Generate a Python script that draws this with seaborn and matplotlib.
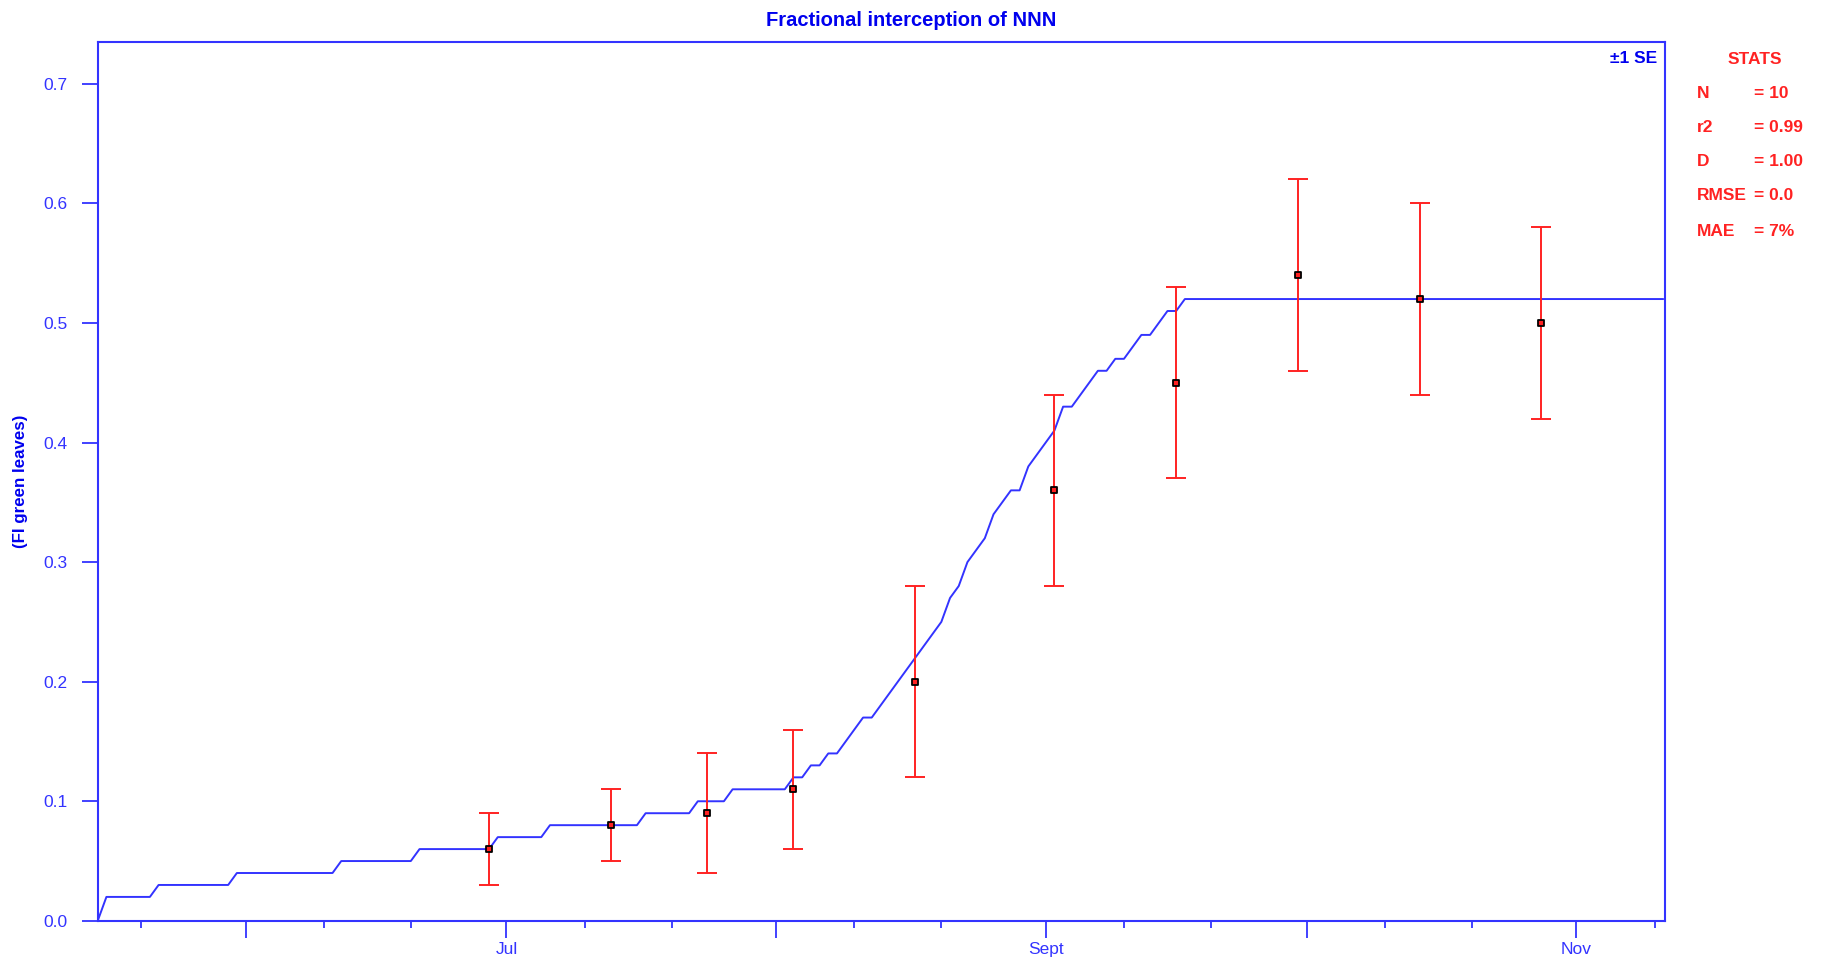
import numpy as np
import pandas as pd
import matplotlib
matplotlib.use("Agg")
import matplotlib.pyplot as plt
import matplotlib.dates as mdates
import matplotlib.ticker as mticker
import seaborn as sns

# ---------------- data ----------------
model_start = "2005-05-15"
# simulated daily fractional interception
model_fi = [
    0.00,
    0.02, 0.02, 0.02, 0.02, 0.02, 0.02,
    0.03, 0.03, 0.03, 0.03, 0.03, 0.03, 0.03, 0.03, 0.03,
    0.04, 0.04, 0.04, 0.04, 0.04, 0.04, 0.04, 0.04, 0.04, 0.04, 0.04, 0.04,
    0.05, 0.05, 0.05, 0.05, 0.05, 0.05, 0.05, 0.05, 0.05,
    0.06, 0.06, 0.06, 0.06, 0.06, 0.06, 0.06, 0.06, 0.06,
    0.07, 0.07, 0.07, 0.07, 0.07, 0.07,
    0.08, 0.08, 0.08, 0.08, 0.08, 0.08, 0.08, 0.08, 0.08, 0.08, 0.08,
    0.09, 0.09, 0.09, 0.09, 0.09, 0.09,
    0.10, 0.10, 0.10, 0.10,
    0.11, 0.11, 0.11, 0.11, 0.11, 0.11, 0.11,
    0.12, 0.12, 0.13, 0.13, 0.14, 0.14,
    0.15, 0.16, 0.17, 0.17, 0.18, 0.19, 0.20, 0.21, 0.22, 0.23,
    0.24, 0.25, 0.27, 0.28, 0.30, 0.31, 0.32, 0.34, 0.35, 0.36,
    0.36, 0.38, 0.39, 0.40, 0.41, 0.43, 0.43, 0.44, 0.45, 0.46,
    0.46, 0.47, 0.47, 0.48, 0.49, 0.49, 0.50, 0.51, 0.51,
    0.52, 0.52, 0.52, 0.52, 0.52, 0.52, 0.52, 0.52, 0.52, 0.52,
    0.52, 0.52, 0.52, 0.52, 0.52, 0.52, 0.52, 0.52, 0.52, 0.52,
    0.52, 0.52, 0.52, 0.52, 0.52, 0.52, 0.52, 0.52, 0.52, 0.52,
    0.52, 0.52, 0.52, 0.52, 0.52, 0.52, 0.52, 0.52, 0.52, 0.52,
    0.52, 0.52, 0.52, 0.52, 0.52, 0.52, 0.52, 0.52, 0.52, 0.52,
    0.52, 0.52, 0.52, 0.52, 0.52, 0.52,
]

obs_dates = ["2005-06-29", "2005-07-13", "2005-07-24", "2005-08-03", "2005-08-17",
             "2005-09-02", "2005-09-16", "2005-09-30", "2005-10-14", "2005-10-28"]
obs_fi = [0.06, 0.08, 0.09, 0.11, 0.20, 0.36, 0.45, 0.54, 0.52, 0.50]
obs_se = [0.03, 0.03, 0.05, 0.05, 0.08, 0.08, 0.08, 0.08, 0.08, 0.08]

stats_labels = ["N", "r2", "D", "RMSE", "MAE"]
stats_values = ["10", "0.99", "1.00", "0.0", "7%"]

month_labels = {7: "Jul", 9: "Sept", 11: "Nov"}
y_ticks = [0.0, 0.1, 0.2, 0.3, 0.4, 0.5, 0.6, 0.7]

title_text = "Fractional interception of NNN"
ylabel_text = "(FI green leaves)"
se_text = "\u00b11 SE"

# ---------------- style ----------------
sns.set_style("ticks")
plt.rcParams['font.family'] = ['Liberation Sans', 'DejaVu Sans']

BLUE = "#3333ff"
TBLUE = "#0000ee"
RED = "#ff2222"

model_df = pd.DataFrame({
    "date": pd.date_range(model_start, periods=len(model_fi), freq="D"),
    "fi": model_fi,
})
obs_df = pd.DataFrame({"date": pd.to_datetime(obs_dates), "fi": obs_fi, "se": obs_se})

fig = plt.figure(figsize=(18.23, 9.6), dpi=100)
ax = fig.add_axes([0.0536, 0.0408, 0.8597, 0.9155])

sns.lineplot(data=model_df, x="date", y="fi", ax=ax, color=BLUE, linewidth=1.4,
             zorder=2)

ax.errorbar(obs_df["date"], obs_df["fi"], yerr=obs_df["se"], fmt="none",
            ecolor=RED, elinewidth=1.4, capsize=7.5, capthick=1.4, zorder=3)
sns.scatterplot(data=obs_df, x="date", y="fi", ax=ax, marker="s", s=20,
                color=RED, edgecolor="black", linewidth=1.3, zorder=4)

# limits
x0 = pd.Timestamp(model_start)
ax.set_xlim(x0, x0 + pd.Timedelta(days=180.2))
ax.set_ylim(0, 0.735)

# spines
for sp in ax.spines.values():
    sp.set_color(BLUE)
    sp.set_linewidth(1.5)
    sp.set_visible(True)

# y ticks
ax.set_yticks(y_ticks)
ax.yaxis.set_major_formatter(mticker.FormatStrFormatter("%.1f"))
ax.tick_params(axis="y", which="major", length=11.5, width=1.3, color=BLUE,
               labelcolor=BLUE, labelsize=12.5, pad=10, direction="out")

# x ticks
ax.xaxis.set_major_locator(mdates.MonthLocator())
ax.xaxis.set_minor_locator(mdates.DayLocator(bymonthday=[10, 20]))
ax.xaxis.set_major_formatter(
    mticker.FuncFormatter(lambda v, p: month_labels.get(mdates.num2date(v).month, "")))
ax.xaxis.set_minor_formatter(mticker.NullFormatter())
ax.tick_params(axis="x", which="major", length=12, width=1.3, color=BLUE,
               labelcolor=BLUE, labelsize=12.5, pad=3, direction="out")
ax.tick_params(axis="x", which="minor", length=5, width=1.3, color=BLUE,
               direction="out")
ax.set_xlabel("")
ax.set_ylabel("")

# texts
fig.text(0.5, 1 - 20 / 960, title_text, ha="center", va="center",
         fontsize=14.5, fontweight="bold", color=TBLUE)
fig.text(21 / 1823, 0.0408 + 0.9155 / 2, ylabel_text, rotation=90,
         ha="center", va="center", fontsize=12.2, fontweight="bold", color=TBLUE)
ax.text(0.995, 0.981, se_text, transform=ax.transAxes, ha="right", va="center",
        fontsize=12.5, fontweight="bold", color=TBLUE)

fig.text(1755 / 1823, 1 - 59 / 960, "STATS", ha="center", va="center",
         fontsize=12.5, fontweight="bold", color=RED)
stat_y = [93, 128, 162, 196, 232]
for lab, val, yy in zip(stats_labels, stats_values, stat_y):
    fig.text(1697 / 1823, 1 - yy / 960, lab, ha="left", va="center",
             fontsize=12.5, fontweight="bold", color=RED)
    fig.text(1754 / 1823, 1 - yy / 960, "= " + val, ha="left", va="center",
             fontsize=12.5, fontweight="bold", color=RED)

fig.savefig("out.png", dpi=100, facecolor="white")
